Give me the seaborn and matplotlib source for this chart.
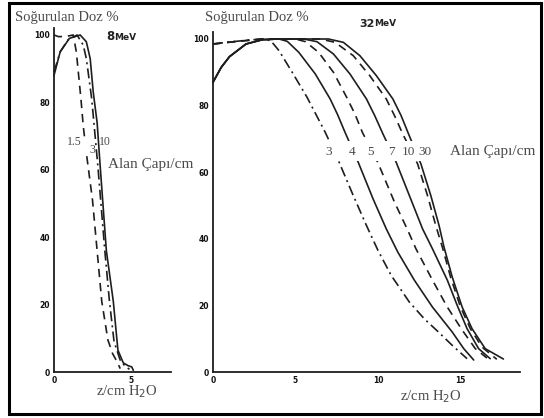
import numpy as np
import pandas as pd
import matplotlib
matplotlib.use("Agg")
import matplotlib.pyplot as plt
import seaborn as sns

# ---------------- data ----------------
# 8 MeV panel (field diameters 1.5, 3, 10 cm)
z8_15 = [0.0, 0.3, 0.8, 1.25, 1.45, 1.6, 1.75, 1.9, 2.1, 2.5, 2.8, 3.1, 3.5, 3.8, 4.1, 4.3]
d8_15 = [100, 99.5, 99.6, 100, 95, 88, 81, 73, 65, 51, 36, 21, 9.5, 5.5, 3.0, 1.0]
z8_3 = [0.0, 0.4, 0.9, 1.5, 1.9, 2.1, 2.45, 2.85, 3.3, 3.6, 3.9, 4.3, 4.6, 4.9]
d8_3 = [89, 95, 98.5, 100, 97, 93, 81, 61, 36, 21, 9, 3.5, 1.8, 0.8]
z8_10 = [0.0, 0.4, 1.0, 1.7, 2.1, 2.35, 2.55, 2.8, 3.0, 3.4, 3.85, 4.15, 4.5, 4.8, 5.05, 5.15]
d8_10 = [88, 95, 99, 100, 98, 93, 83, 74, 61, 36, 21, 6.5, 2.7, 1.9, 1.5, 0.5]

# 32 MeV panel (field diameters 3, 4, 5, 7, 10, 30 cm)
z32_3 = [0.0, 1.0, 2.0, 3.0, 3.5, 4.0, 4.8, 5.7, 6.8, 7.6, 8.5, 9.3, 10.0, 10.8, 11.9, 12.8, 13.6, 14.5, 15.4]
d32_3 = [98.5, 99.1, 99.6, 100, 99.5, 96.5, 90, 82.5, 72, 63.5, 53, 44, 36.5, 29, 21, 16, 12.3, 8, 4.0]
z32_4 = [0.0, 0.5, 1.0, 2.0, 3.0, 4.0, 4.5, 5.2, 6.2, 7.1, 7.55, 8.0, 8.8, 9.7, 10.5, 11.2, 12.2, 13.3, 14.5, 15.2, 15.8]
d32_4 = [87, 91.5, 94.7, 98.5, 99.8, 100, 99.3, 96, 89.5, 82, 77.3, 72, 63, 52, 43, 36, 27.6, 19.5, 12, 7, 3.6]
z32_5 = [0.0, 1.5, 3.0, 5.0, 5.6, 6.4, 7.3, 8.1, 8.6, 9.05, 10.0, 11.0, 11.8, 12.3, 13.3, 14.2, 15.1, 15.9, 16.6]
d32_5 = [98.5, 99.3, 100, 100, 99.2, 96, 90, 82.5, 77.5, 72, 62.8, 51, 42.6, 37, 27.6, 19.5, 12.6, 7, 4.2]
z32_7 = [0.0, 0.5, 1.0, 2.0, 3.0, 4.0, 5.5, 6.3, 7.3, 8.3, 9.3, 9.8, 10.3, 11.1, 11.9, 12.7, 13.3, 14.2, 14.8, 15.4, 16.1, 16.8]
d32_7 = [87, 91.5, 94.7, 98.5, 99.8, 100, 100, 99.2, 95.5, 89.5, 82, 77, 71.5, 63, 53, 43, 37, 27.6, 20, 13, 7, 4.0]
z32_10 = [0.0, 1.5, 3.0, 6.5, 7.4, 8.5, 9.5, 10.5, 11.0, 11.5, 12.4, 13.0, 13.5, 13.9, 14.4, 15.0, 15.6, 16.3, 17.2]
d32_10 = [98.5, 99.3, 100, 100, 99, 95, 89, 82, 77, 71.5, 62.5, 53, 44, 37.5, 28.5, 19.5, 13, 7.5, 3.8]
z32_30 = [0.0, 0.5, 1.0, 2.0, 3.0, 4.0, 7.0, 7.9, 8.9, 9.9, 10.9, 11.4, 11.85, 12.6, 13.2, 13.7, 14.0, 14.5, 15.1, 15.7, 16.5, 17.6]
d32_30 = [87, 91.5, 94.7, 98.5, 99.8, 100, 100, 99, 95, 89, 82, 77, 71.5, 62.5, 53, 44, 37.5, 28.5, 19.5, 13, 7, 3.9]

labels8 = ["1.5", "3", "10"]
labels32 = ["3", "4", "5", "7", "10", "30"]
yticks = [0, 20, 40, 60, 80, 100]
xticks8 = [0, 5]
xticks32 = [0, 5, 10, 15]
xticklabels32 = ["0", "5", "10", "15"]

# ---------------- figure ----------------
sns.set_style("white")
plt.rcParams["font.family"] = ["Liberation Serif", "DejaVu Serif"]

W, H = 544, 418
fig = plt.figure(figsize=(W / 100, H / 100), dpi=100)

LC = "#1e1e1e"
DASH = (0, (5, 3.5))
DASHDOT = (0, (6, 2.5, 1.2, 2.5))

def px_axes(x0, y0, x1, y1):
    return fig.add_axes([x0 / W, 1 - y1 / H, (x1 - x0) / W, (y1 - y0) / H])

# left panel: z=0 at x=54, 15.4 px/cm ; d=0 at y=372, 3.37 px/unit
axL = px_axes(54, 372 - 3.37 * 102, 54 + 15.4 * 7.6, 372)
axL.set_xlim(0, 7.6)
axL.set_ylim(0, 102)

# right panel: z=0 at x=213, 16.5 px/cm ; d=0 at y=372, 3.33 px/unit
axR = px_axes(213, 372 - 3.33 * 102, 213 + 16.5 * 18.6, 372)
axR.set_xlim(0, 18.6)
axR.set_ylim(0, 102)

def draw(ax, z, d, ls):
    df = pd.DataFrame({"z": z, "d": d})
    sns.lineplot(data=df, x="z", y="d", ax=ax, color=LC, linestyle=ls,
                 linewidth=1.2, estimator=None, sort=False, clip_on=False)

draw(axL, z8_15, d8_15, DASH)
draw(axL, z8_3, d8_3, DASHDOT)
draw(axL, z8_10, d8_10, "-")

draw(axR, z32_3, d32_3, DASHDOT)
draw(axR, z32_4, d32_4, "-")
draw(axR, z32_5, d32_5, DASH)
draw(axR, z32_7, d32_7, "-")
draw(axR, z32_10, d32_10, DASH)
draw(axR, z32_30, d32_30, "-")

for ax, xt in ((axL, xticks8), (axR, xticks32)):
    sns.despine(ax=ax)
    ax.set_xlabel("")
    ax.set_ylabel("")
    ax.spines["left"].set_color(LC)
    ax.spines["bottom"].set_color(LC)
    ax.spines["left"].set_linewidth(1.3)
    ax.spines["bottom"].set_linewidth(1.3)
    ax.set_yticks(yticks)
    ax.set_yticks(np.arange(0, 101, 10), minor=True)
    ax.set_xticks(xt)
    ax.set_xticks(np.arange(0, ax.get_xlim()[1], 1), minor=True)
    ax.tick_params(axis="both", which="major", direction="inout", length=4,
                   width=1, color=LC, pad=1, labelsize=5.5, labelcolor="#111")
    ax.tick_params(axis="both", which="minor", direction="inout", length=2.5,
                   width=0.8, color=LC)
    ax.patch.set_alpha(0)

axR.set_xticklabels(xticklabels32)
for ax in (axL, axR):
    for t in ax.get_xticklabels() + ax.get_yticklabels():
        t.set_fontweight("bold")
        t.set_family(["DejaVu Sans"])

# white gaps where the curves are interrupted by the field-size labels
for (x0, y0, x1, y1) in [(64, 137, 90, 153), (318, 141, 436, 161)]:
    fig.patches.append(plt.Rectangle((x0 / W, 1 - y1 / H), (x1 - x0) / W, (y1 - y0) / H,
                                     transform=fig.transFigure, facecolor="white",
                                     edgecolor="none", zorder=2))

TC = "#4a4a4a"
# titles
fig.text(15 / W, 1 - 17 / H, "Soğurulan Doz %", fontsize=10.5, color=TC, va="center", ha="left")
fig.text(205 / W, 1 - 17 / H, "Soğurulan Doz %", fontsize=10.5, color=TC, va="center", ha="left")

# energies
fig.text(106 / W, 1 - 36 / H, "8", fontsize=8.5, fontweight="bold", family=["DejaVu Sans"],
         color="#222", va="center", ha="left")
fig.text(114 / W, 1 - 37 / H, "MeV", fontsize=6.5, fontweight="bold", family=["DejaVu Sans"],
         color="#222", va="center", ha="left")
fig.text(359 / W, 1 - 24 / H, "32", fontsize=8, fontweight="bold", family=["DejaVu Sans"],
         color="#222", va="center", ha="left")
fig.text(374 / W, 1 - 24 / H, "MeV", fontsize=6.5, fontweight="bold", family=["DejaVu Sans"],
         color="#222", va="center", ha="left")

# field-size labels (left)
lab8_pos = [(74, 142), (92, 150), (105, 142)]
for (x, y), s in zip(lab8_pos, labels8):
    fig.text(x / W, 1 - y / H, s, fontsize=8.5, color=TC, va="center", ha="center", zorder=5)
fig.text(108 / W, 1 - 164 / H, "Alan Çapı/cm", fontsize=11, color=TC, va="center", ha="left")

# field-size labels (right)
lab32_x = [329, 352, 371, 391, 408, 425]
for x, s in zip(lab32_x, labels32):
    fig.text(x / W, 1 - 152 / H, s, fontsize=9.5, color=TC, va="center", ha="center", zorder=5)
fig.text(450 / W, 1 - 152 / H, "Alan Çapı/cm", fontsize=11, color=TC, va="center", ha="left")

# x-axis labels
fig.text(96 / W, 1 - 392 / H, "z/cm H$_2$O", fontsize=10.5, color=TC, va="center", ha="left")
fig.text(400 / W, 1 - 397 / H, "z/cm H$_2$O", fontsize=10.5, color=TC, va="center", ha="left")

# frame around the whole picture
frame = plt.Rectangle((9 / W, 1 - 414 / H), (541 - 9) / W, (414 - 3) / H,
                      transform=fig.transFigure, fill=False, edgecolor="black",
                      linewidth=2.2, zorder=6)
fig.patches.append(frame)

fig.savefig("out.png", dpi=100)
